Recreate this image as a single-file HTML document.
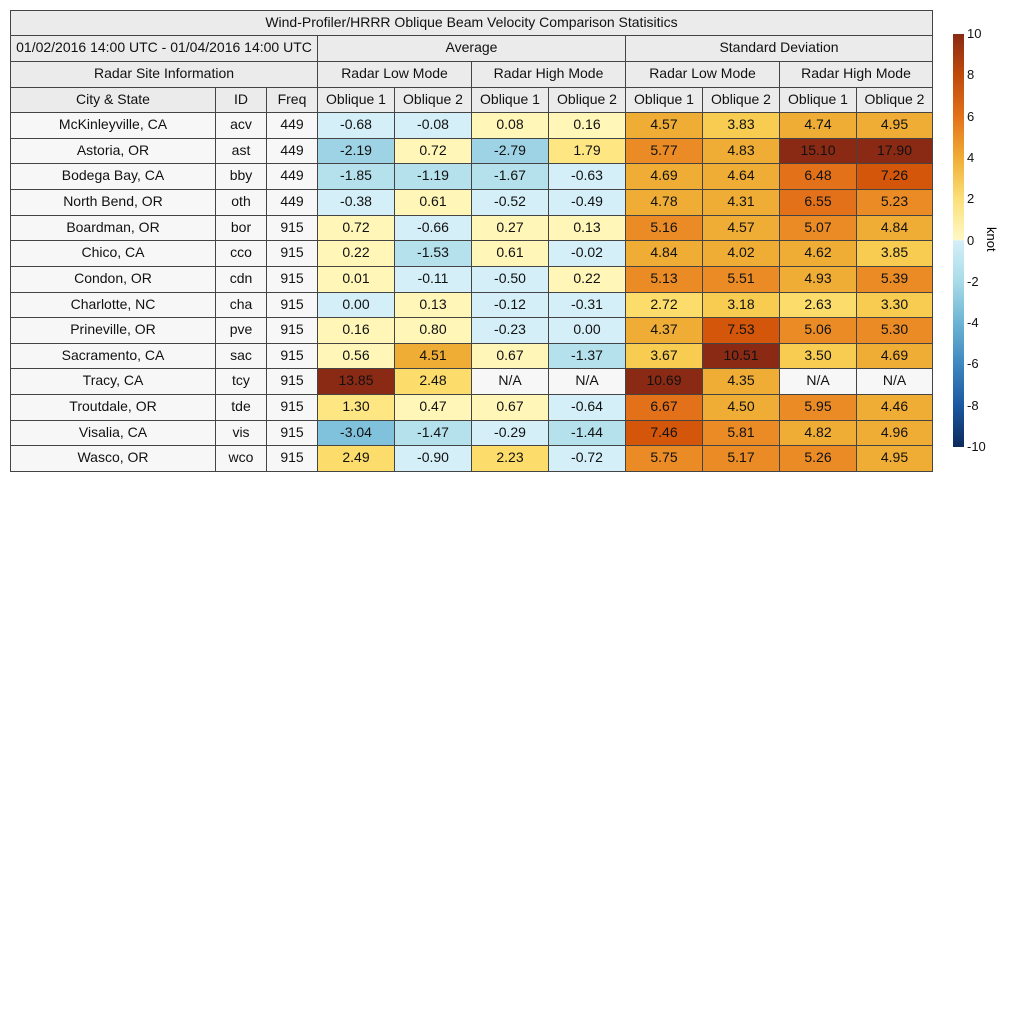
<!DOCTYPE html>
<html><head><meta charset="utf-8">
<style>
body{margin:0;width:1024px;height:1024px;background:#fff;font-family:"Liberation Sans",sans-serif;position:relative;overflow:hidden}
.c{position:absolute;box-sizing:border-box;border:1px solid #444;display:flex;align-items:center;justify-content:center;font-size:14px;color:#111;padding-bottom:3px;white-space:nowrap}
.h{background:#ebebeb}
.n{background:#f7f7f7}
#cb{position:absolute;left:953px;top:34px;width:11px;height:413px}
.tk{position:absolute;left:967px;font-size:13px;color:#111}
</style></head><body>
<div id="table"></div>
<div id="cb"></div>
<div id="ticks"></div>
<div style="position:absolute;left:984px;top:227px;font-size:13px;writing-mode:vertical-rl;">knot</div>
<script>
const cities=["McKinleyville, CA","Astoria, OR","Bodega Bay, CA","North Bend, OR","Boardman, OR","Chico, CA","Condon, OR","Charlotte, NC","Prineville, OR","Sacramento, CA","Tracy, CA","Troutdale, OR","Visalia, CA","Wasco, OR"];
const ids=["acv","ast","bby","oth","bor","cco","cdn","cha","pve","sac","tcy","tde","vis","wco"];
const freqs=["449","449","449","449","915","915","915","915","915","915","915","915","915","915"];
const avgLow1=[-0.68,-2.19,-1.85,-0.38,0.72,0.22,0.01,0.00,0.16,0.56,13.85,1.30,-3.04,2.49];
const avgLow2=[-0.08,0.72,-1.19,0.61,-0.66,-1.53,-0.11,0.13,0.80,4.51,2.48,0.47,-1.47,-0.90];
const avgHigh1=[0.08,-2.79,-1.67,-0.52,0.27,0.61,-0.50,-0.12,-0.23,0.67,null,0.67,-0.29,2.23];
const avgHigh2=[0.16,1.79,-0.63,-0.49,0.13,-0.02,0.22,-0.31,0.00,-1.37,null,-0.64,-1.44,-0.72];
const sdLow1=[4.57,5.77,4.69,4.78,5.16,4.84,5.13,2.72,4.37,3.67,10.69,6.67,7.46,5.75];
const sdLow2=[3.83,4.83,4.64,4.31,4.57,4.02,5.51,3.18,7.53,10.51,4.35,4.50,5.81,5.17];
const sdHigh1=[4.74,15.10,6.48,6.55,5.07,4.62,4.93,2.63,5.06,3.50,null,5.95,4.82,5.26];
const sdHigh2=[4.95,17.90,7.26,5.23,4.84,3.85,5.39,3.30,5.30,4.69,null,4.46,4.96,4.95];
const tickLabels=[10,8,6,4,2,0,-2,-4,-6,-8,-10];
const series=[avgLow1,avgLow2,avgHigh1,avgHigh2,sdLow1,sdLow2,sdHigh1,sdHigh2];

function color(v){
  if(v===null) return "#f7f7f7";
  if(v<=0){
    const b=[["#d4eff8",-1],["#b5e1ec",-2],["#9dd3e4",-3],["#80c2dc",-4],["#5ea9d0",-5],["#4590c4",-6],["#2f74b4",-7],["#1e5ca2",-8],["#14458a",-9],["#0c2f66",-99]];
    for(const [c,t] of b) if(v>=t) return c;
  }
  const p=[[1,"#fff6b8"],[2,"#fee783"],[3,"#fcdc6a"],[4,"#f7cc50"],[5,"#f0ad35"],[6,"#ea8b25"],[7,"#e3711a"],[8,"#d4560a"],[9,"#c04a0c"],[10,"#a33512"],[1e9,"#8a2a14"]];
  for(const [t,c] of p) if(v<t) return c;
}
const T=document.getElementById('table');
function cell(x,y,w,h,txt,cls,bg,name){
  const d=document.createElement('div');
  d.className='c '+(cls||'');
  d.style.left=x+'px';d.style.top=y+'px';d.style.width=(w+1)+'px';d.style.height=(h+1)+'px';
  if(bg)d.style.background=bg;
  d.textContent=txt;
  
  
  T.appendChild(d);
}
const colX=[10,215,266,317,394,471,548,625,702,779,856,932];
const rowY0=112, rh=(471-112)/14;
cell(10,10,922,25,"Wind-Profiler/HRRR Oblique Beam Velocity Comparison Statisitics","h",null,"table-title");
cell(10,35,307,26,"01/02/2016 14:00 UTC - 01/04/2016 14:00 UTC","h",null,"date-range");
cell(317,35,308,26,"Average","h",null,"average-header");
cell(625,35,307,26,"Standard Deviation","h",null,"stddev-header");
cell(10,61,307,26,"Radar Site Information","h",null,"site-info-header");
const modes=["Radar Low Mode","Radar High Mode","Radar Low Mode","Radar High Mode"];
for(let i=0;i<4;i++) cell(colX[3+2*i],61,colX[5+2*i]-colX[3+2*i],26,modes[i],"h",null,"mode-header");
const sub=["City & State","ID","Freq","Oblique 1","Oblique 2","Oblique 1","Oblique 2","Oblique 1","Oblique 2","Oblique 1","Oblique 2"];
for(let i=0;i<11;i++) cell(colX[i],87,colX[i+1]-colX[i],25,sub[i],"h",null,"column-header");
for(let r=0;r<cities.length;r++){
  const y=Math.round(rowY0+r*rh), h=Math.round(rowY0+(r+1)*rh)-y;
  cell(colX[0],y,colX[1]-colX[0],h,cities[r],"n",null,"city-cell");
  cell(colX[1],y,colX[2]-colX[1],h,ids[r],"n",null,"id-cell");
  cell(colX[2],y,colX[3]-colX[2],h,freqs[r],"n",null,"freq-cell");
  for(let s=0;s<series.length;s++){
    const v=series[s][r];
    cell(colX[3+s],y,colX[4+s]-colX[3+s],h,v===null?"N/A":v.toFixed(2),"",color(v),"value-cell");
  }
}
const cb=document.getElementById('cb');
const cbTop=34,cbH=413;
function yOf(v){return cbTop+(10-v)/20*cbH;}
cb.style.background="linear-gradient(to bottom,#8a2a14 0%,#c04a0c 10%,#e3711a 20%,#f0ad35 30%,#fbe07a 40%,#fff8c6 49.9%,#d4eff8 50%,#a8dbe8 60%,#6cb4d4 70%,#3d87c0 80%,#1a58a0 90%,#0c2a5c 100%)";
const tk=document.getElementById('ticks');
for(const t of tickLabels){
  const d=document.createElement('div');
  d.className='tk';
  d.style.top=(yOf(t)-8)+'px';
  d.textContent=String(t);
  
  
  tk.appendChild(d);
}
</script>
</body></html>
